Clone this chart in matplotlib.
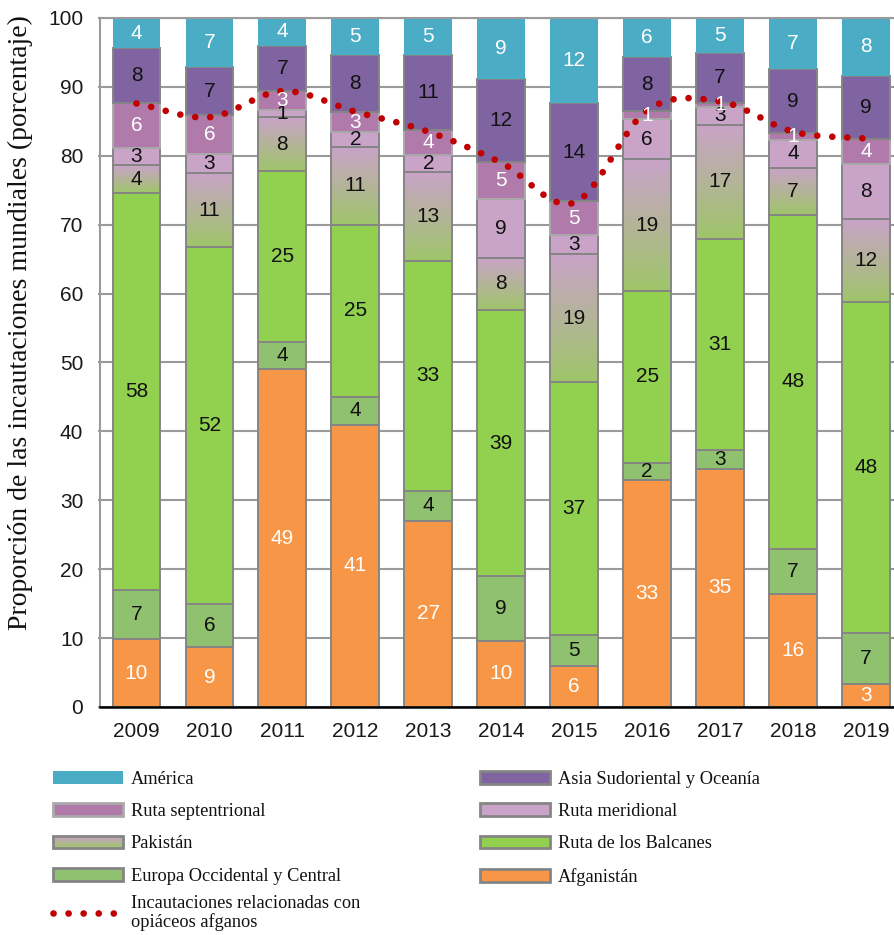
import numpy as np
import matplotlib
matplotlib.use("Agg")
import matplotlib.pyplot as plt
from matplotlib.patches import Rectangle
from matplotlib.lines import Line2D
from matplotlib.legend_handler import HandlerBase
from matplotlib.colors import to_rgb

# ---------------- data ----------------
years = ["2009", "2010", "2011", "2012", "2013", "2014", "2015", "2016", "2017", "2018", "2019"]
afganistan    = [9.8, 8.7, 49.0, 41.0, 27.0, 9.6, 5.9, 33.0, 34.6, 16.4, 3.4]
europa        = [7.2, 6.3, 4.0, 4.0, 4.4, 9.4, 4.6, 2.4, 2.7, 6.6, 7.4]
balcanes      = [57.6, 51.7, 24.8, 25.0, 33.3, 38.6, 36.6, 25.0, 30.6, 48.4, 48.0]
pakistan      = [4.0, 10.8, 7.8, 11.3, 13.0, 7.6, 18.6, 19.1, 16.6, 6.9, 12.0]
meridional    = [2.6, 2.7, 1.0, 2.1, 2.4, 8.6, 2.8, 5.8, 2.6, 4.0, 8.0]
septentrional = [6.4, 5.7, 2.8, 3.0, 3.6, 5.3, 4.9, 1.2, 0.6, 1.0, 3.7]
asia          = [8.0, 7.0, 6.6, 8.2, 10.9, 12.0, 14.2, 7.8, 7.2, 9.3, 9.1]
america       = [4.4, 7.1, 4.0, 5.4, 5.4, 8.9, 12.4, 5.7, 5.1, 7.4, 8.4]
afghan_related = [87.6, 85.6, 89.4, 86.4, 83.5, 79.0, 73.2, 86.6, 87.9, 83.5, 82.5]

yticks = [0, 10, 20, 30, 40, 50, 60, 70, 80, 90, 100]

# ---------------- style ----------------
C_AFG = "#f79646"
C_EUR = "#8fc16e"
C_BAL = "#92d050"
C_PAK_TOP = "#c9a3c8"
C_PAK_BOT = "#9fc56a"
C_MER = "#c9a3c8"
C_SEP = "#b07aaa"
C_ASIA = "#8064a2"
C_AME = "#4bacc6"
C_DOT = "#c00000"
EDGE = "#858585"
GRID = "#9a9a9a"

SANS = ["Liberation Sans", "DejaVu Sans"]
SERIF = ["Liberation Serif", "DejaVu Serif"]

W, H = 894, 935
fig = plt.figure(figsize=(W / 100, H / 100), dpi=100)
ax = fig.add_axes([100 / W, 1 - 707 / H, 794 / W, 689 / H])

x = np.arange(len(years))
bw = 0.655
edge_lw = 1.4

series = [
    ("Afganistán", afganistan, C_AFG, "white"),
    ("Europa Occidental y Central", europa, C_EUR, "#111111"),
    ("Ruta de los Balcanes", balcanes, C_BAL, "#111111"),
    ("Pakistán", pakistan, None, "#111111"),
    ("Ruta meridional", meridional, C_MER, "#111111"),
    ("Ruta septentrional", septentrional, C_SEP, "white"),
    ("Asia Sudoriental y Oceanía", asia, C_ASIA, "#111111"),
    ("América", america, C_AME, "white"),
]

bottom = np.zeros(len(years))
top_rgb = np.array(to_rgb(C_PAK_TOP))
bot_rgb = np.array(to_rgb(C_PAK_BOT))
grad = np.linspace(0, 1, 64)[:, None, None]
grad_img = bot_rgb[None, None, :] * (1 - grad) + top_rgb[None, None, :] * grad

for name, vals, col, tcol in series:
    vals = np.array(vals)
    if col is None:
        for i in range(len(years)):
            ax.imshow(grad_img, extent=(x[i] - bw / 2, x[i] + bw / 2, bottom[i], bottom[i] + vals[i]),
                      origin="lower", aspect="auto", interpolation="bilinear", zorder=2)
        ax.bar(x, vals, bw, bottom=bottom, facecolor="none", edgecolor=EDGE, linewidth=edge_lw, zorder=2.5)
    else:
        ec = "none" if name == "América" else ("#aaaaaa" if name == "Ruta septentrional" else EDGE)
        ax.bar(x, vals, bw, bottom=bottom, color=col, edgecolor=ec, linewidth=edge_lw, zorder=2)
    for i in range(len(years)):
        ax.text(x[i], bottom[i] + vals[i] / 2, f"{round(vals[i]):d}", ha="center", va="center",
                color=tcol, fontsize=15, family=SANS, zorder=5)
    bottom = bottom + vals


# smoothed dotted line (Catmull-Rom rendering of the 11 points)
def catmull_rom(px, py, n=40):
    px = np.asarray(px, float)
    py = np.asarray(py, float)
    P = np.column_stack([px, py])
    P = np.vstack([P[0] - (P[1] - P[0]), P, P[-1] + (P[-1] - P[-2])])
    out = []
    for k in range(1, len(P) - 2):
        p0, p1, p2, p3 = P[k - 1], P[k], P[k + 1], P[k + 2]
        t = np.linspace(0, 1, n, endpoint=False)[:, None]
        seg = 0.5 * ((2 * p1) + (-p0 + p2) * t + (2 * p0 - 5 * p1 + 4 * p2 - p3) * t ** 2
                     + (-p0 + 3 * p1 - 3 * p2 + p3) * t ** 3)
        out.append(seg)
    out.append(P[-2][None, :])
    out = np.vstack(out)
    return out[:, 0], out[:, 1]


sx, sy = catmull_rom(x, afghan_related)
dot_style = dict(color=C_DOT, linewidth=4.8, linestyle=(0, (0.01, 2.25)), dash_capstyle="round")
ax.plot(sx, sy, zorder=4, **dot_style)

# axes styling
ax.set_xlim(-0.5, (894 - 136) / 73.0)
ax.set_ylim(0, 100)
ax.set_yticks(yticks)
ax.set_xticks(x)
ax.set_xticklabels(years)
ax.yaxis.grid(True, color=GRID, linewidth=1.5, zorder=0)
ax.set_axisbelow(True)
for t in ax.get_xticklabels() + ax.get_yticklabels():
    t.set_family(SANS)
    t.set_fontsize(15)
    t.set_color("#1a1a1a")
ax.tick_params(axis="x", length=0, pad=11)
ax.tick_params(axis="y", direction="out", length=1.5, width=1.5, color=GRID, pad=10.5)
ax.spines["right"].set_visible(False)
ax.spines["top"].set_color(GRID)
ax.spines["top"].set_linewidth(1.5)
ax.spines["left"].set_color(GRID)
ax.spines["left"].set_linewidth(1.5)
ax.spines["bottom"].set_color("black")
ax.spines["bottom"].set_linewidth(1.8)
ax.spines["bottom"].set_zorder(6)

fig.text(20 / W, 1 - 323 / H, "Proporción de las incautaciones mundiales (porcentaje)",
         rotation=90, ha="center", va="center", fontsize=20, family=SERIF, color="#111111")


# ---------------- legend ----------------
class GradientHandler(HandlerBase):
    def create_artists(self, legend, orig_handle, xdescent, ydescent, width, height, fontsize, trans):
        arts = []
        n = 12
        for k in range(n):
            f = k / (n - 1)
            c = bot_rgb * (1 - f) + top_rgb * f
            arts.append(Rectangle((-xdescent, -ydescent + height * k / n), width, height / n + 0.01,
                                  facecolor=c, edgecolor="none", transform=trans))
        arts.append(Rectangle((-xdescent, -ydescent), width, height, facecolor="none",
                              edgecolor=EDGE, linewidth=2.0, transform=trans))
        return arts


def patch(col, ec=EDGE):
    return Rectangle((0, 0), 1, 1, facecolor=col, edgecolor=ec, linewidth=2.0)


pak_handle = Rectangle((0, 0), 1, 1)
h1 = [patch(C_AME, "none"), patch(C_SEP, "#aaaaaa"), pak_handle, patch(C_EUR)]
l1 = ["América", "Ruta septentrional", "Pakistán", "Europa Occidental y Central"]
h2 = [patch(C_ASIA), patch(C_MER), patch(C_BAL), patch(C_AFG)]
l2 = ["Asia Sudoriental y Oceanía", "Ruta meridional", "Ruta de los Balcanes", "Afganistán"]
h3 = [Line2D([], [], **dot_style)]
l3 = ["Incautaciones relacionadas con\nopiáceos afganos"]

common = dict(frameon=False, borderpad=0, borderaxespad=0, handlelength=3.8, handleheight=0.7,
              handletextpad=0.45, labelspacing=0.83, loc="upper left",
              prop={"family": SERIF, "size": 13.2})
leg1 = fig.legend(h1, l1, bbox_to_anchor=(53 / W, 1 - 771 / H),
                  handler_map={pak_handle: GradientHandler()}, **common)
leg2 = fig.legend(h2, l2, bbox_to_anchor=(480 / W, 1 - 771 / H), **common)
leg3 = fig.legend(h3, l3, bbox_to_anchor=(53 / W, 1 - 895 / H), **common)
for lg in (leg1, leg2, leg3):
    for t in lg.get_texts():
        t.set_linespacing(1.1)
        t.set_color("#111111")

fig.savefig("out.png", dpi=100)
